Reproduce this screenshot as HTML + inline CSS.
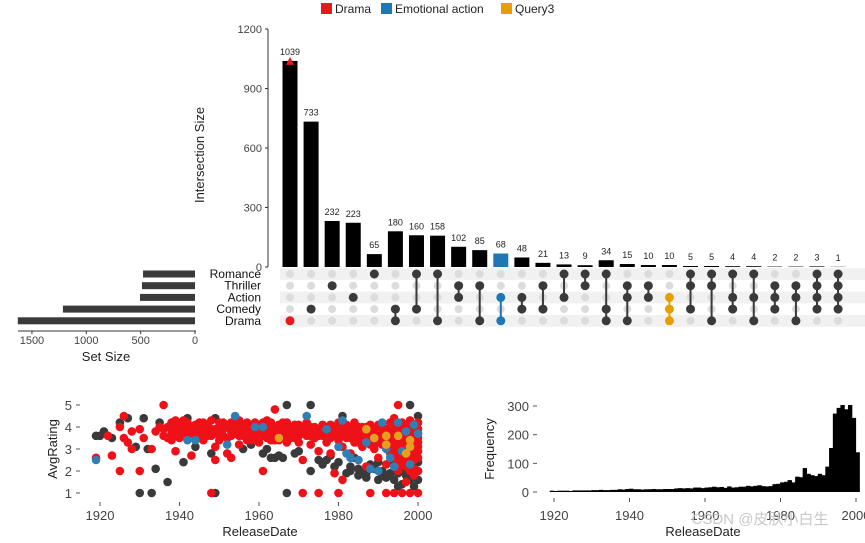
<!DOCTYPE html>
<html><head><meta charset="utf-8"><style>
body{margin:0;background:#fff;width:865px;height:538px;overflow:hidden}
svg text{font-family:"Liberation Sans",sans-serif}
</style></head><body>
<svg id="c" width="865" height="538" xmlns="http://www.w3.org/2000/svg"></svg>
<script>
const setNames=["Romance","Thriller","Action","Comedy","Drama"];
const setSizes=[478,488,506,1215,1630];
const interCounts=[1039,733,232,223,65,180,160,158,102,85,68,48,21,13,9,34,15,10,10,5,5,4,4,2,2,3,1];
const interSets=[[4],[3],[1],[2],[0],[3,4],[0,3],[0,4],[1,2],[1,4],[2,4],[2,3],[1,3],[0,2],[0,1],[0,3,4],[1,2,4],[1,2],[2,3,4],[0,1,3],[0,1,4],[0,2,3],[0,2,4],[1,2,3],[1,2,4],[0,1,2,3],[0,1,2,3]];
const interColor=["#e41a1c",null,null,null,null,null,null,null,null,null,"#1f78b4",null,null,null,null,null,null,null,"#e69f00",null,null,null,null,null,null,null,null];
const yTicks=[0,300,600,900,1200];
const setTicks=[0,500,1000,1500];
const darkPts=[1919,3.6,1920,3.6,1921,3.8,1923,3.5,1925,4.2,1927,4.4,1929,3.1,1930,1,1931,4.4,1932,3.0,1933,1,1934,2.1,1935,4.2,1937,1.5,1941,2.4,1942,4.4,1944,3.1,1948,2.8,1949,1,1949,4.4,1956,3.0,1961,2.8,1963,2.6,1964,2.6,1967,5,1967,1,1969,2.8,1973,5,1973,2,1976,2.3,1978,2.7,1981,4.5,1983,2.2,1985,1.8,1987,1.9,1988,2.3,1990,1.6,1991,2.0,1993,2.4,1995,1.3,1996,2.0,1997,2.8,1998,5,1998,1.6,1999,2.3,2000,4.5,2000,2.0,1984,2.6,1986,1.9,1989,2.1,1992,1.7,1994,1.6,1996,1.4,1999,1.3,1962,3.0,1970,2.9,1975,2.5,1980,2.4,1982,1.9,1958,3.2,1952,3.5,1965,2.7,1979,2.2,1985,2.1,1990,2.4,1995,1.9,1997,1.8,2000,1.6,1966,2.6,1977,2.5,1983,2.0,1987,1.7,1991,1.8,1993,1.9,1998,2.2,2000,2.4];
const redPts=[1919,2.6,1922,3.6,1923,2.7,1925,2,1925,4,1926,4.5,1926,3.5,1927,3.3,1928,3.0,1928,3.8,1930,2,1930,3.9,1931,3.5,1933,3,1934,3.8,1936,5,1936,3.6,1937,4,1938,4.2,1938,3.7,1939,3.9,1939,2.9,1940,4.1,1940,3.5,1941,3.8,1941,4.3,1942,3.9,1943,4.0,1943,2.7,1944,3.6,1945,4.2,1945,3.8,1946,3.9,1946,3.4,1947,4.1,1947,3.6,1948,1,1948,4.3,1949,2.5,1949,3.1,1950,4.0,1950,3.7,1951,3.9,1951,4.2,1952,3.5,1952,2.8,1953,4.0,1953,2.6,1954,3.7,1954,4.3,1955,3.9,1955,3.2,1956,4.1,1956,3.6,1957,4.2,1957,3.8,1958,3.4,1958,4.0,1959,3.9,1959,3.6,1960,4.1,1960,3.3,1961,2,1961,3.8,1962,4.3,1962,3.5,1963,4.0,1963,3.7,1964,4.8,1964,3.4,1965,4.1,1965,3.8,1966,3.6,1966,4.2,1967,3.9,1967,3.3,1968,4.0,1968,3.7,1969,3.5,1969,4.1,1970,3.9,1970,3.3,1971,2.5,1971,4.0,1971,1,1972,3.6,1972,4.2,1973,3.8,1973,3.2,1974,4.0,1974,3.5,1975,1,1975,3.9,1975,2.9,1976,4.1,1976,3.6,1977,3.3,1977,4.0,1978,3.8,1978,2.8,1979,1.9,1979,3.6,1980,1,1980,4.2,1980,3.4,1981,1.6,1981,3.9,1981,3.1,1982,4.1,1982,3.5,1983,2.8,1983,3.9,1984,4.2,1984,3.3,1985,3.7,1985,2.5,1986,4.0,1986,3.1,1987,3.8,1987,2.2,1988,1,1988,3.5,1988,4.1,1989,3.0,1989,3.9,1990,3.6,1990,2.6,1991,4.0,1991,3.2,1992,1,1992,3.7,1992,2.3,1993,4.2,1993,3.4,1993,2.8,1994,1,1994,3.9,1994,3.0,1994,4.4,1995,5,1995,2.0,1995,3.5,1995,4.1,1996,1,1996,3.8,1996,2.6,1996,3.2,1997,1.5,1997,4.0,1997,3.4,1997,2.2,1998,1,1998,3.7,1998,2.9,1998,4.3,1999,1.8,1999,3.6,1999,2.5,2000,1,2000,3.9,2000,3.1,2000,2.0,
1935,4.0,1937,3.5,1939,4.3,1942,3.6,1944,4.1,1946,4.2,1948,3.9,1950,3.4,1953,3.6,1955,4.3,1957,3.4,1960,3.7,1963,3.4,1966,3.9,1969,3.8,1972,3.9,1974,3.7,1977,3.7,1979,4.0,1982,3.8,1984,3.6,1986,3.5,1988,3.8,1990,4.1,1991,3.5,1993,3.8,1994,3.4,1995,3.0,1996,4.2,1996,3.5,1997,3.7,1997,3.1,1998,3.4,1998,2.5,1999,4.0,1999,3.2,1999,2.8,2000,3.5,2000,2.6,2000,4.2,1996,2.3,1997,2.6,1995,2.5,1994,2.6,1998,2.0,1999,2.1,
1936,3.9,1938,3.9,1939,3.6,1940,3.8,1941,4.0,1942,4.2,1943,3.7,1944,3.9,1945,3.5,1946,3.7,1947,3.9,1948,3.6,1949,3.9,1950,4.2,1951,3.6,1952,4.0,1953,3.8,1954,4.0,1955,3.6,1956,3.9,1957,4.0,1958,3.7,1959,4.2,1960,3.9,1961,3.6,1961,4.2,1962,3.8,1963,4.2,1964,3.9,1965,3.6,1966,4.0,1967,3.6,1967,4.2,1968,3.9,1969,3.6,1970,4.1,1971,3.7,1972,3.8,1973,4.0,1974,3.8,1975,3.6,1976,3.9,1977,3.9,1978,4.1,1978,3.5,1979,3.8,1980,3.7,1981,3.6,1982,3.9,1983,3.5,1984,3.9,1985,4.0,1985,3.3,1986,3.8,1987,3.5,1988,3.2,1989,3.6,1990,3.3,1991,3.7,1992,3.9,1992,3.4,1993,3.1,1994,3.7,1995,3.8,1995,3.2,1996,3.9,1996,3.0,1997,3.5,1997,2.9,1998,3.9,1998,3.2,1999,3.8,1999,3.4,2000,3.7,2000,2.9,2000,3.3,1999,3.0,1998,2.7,1997,2.4,1996,2.8,1995,2.8,1993,3.6,1991,3.9,1989,3.3,1987,4.0,1983,3.7,1980,3.9,1976,3.8,1973,3.6,1970,3.6,1968,3.5,1965,3.4,1962,4.0,1959,3.4,1956,3.8,1953,4.2,1949,3.7,1945,4.0,1942,4.0,1940,3.9,1938,3.4];
const bluePts=[1919,2.5,1942,3.4,1944,3.4,1952,3.2,1954,4.5,1959,4.0,1961,4.0,1972,4.5,1977,3.9,1980,3.1,1981,4.3,1982,2.8,1985,2.5,1987,3.3,1988,2.1,1990,2.0,1991,4.2,1993,2.6,1994,2.2,1995,4.2,1996,2.9,1997,3.8,1998,2.3,1999,4.1,2000,3.7,1983,2.6,1989,3.5,1992,3.0];
const orangePts=[1965,3.5,1987,3.9,1989,3.5,1992,3.6,1992,3.2,1995,3.6,1997,2.8,1998,3.1,1998,3.4];
const histYears=[1919,1920,1921,1922,1923,1924,1925,1926,1927,1928,1929,1930,1931,1932,1933,1934,1935,1936,1937,1938,1939,1940,1941,1942,1943,1944,1945,1946,1947,1948,1949,1950,1951,1952,1953,1954,1955,1956,1957,1958,1959,1960,1961,1962,1963,1964,1965,1966,1967,1968,1969,1970,1971,1972,1973,1974,1975,1976,1977,1978,1979,1980,1981,1982,1983,1984,1985,1986,1987,1988,1989,1990,1991,1992,1993,1994,1995,1996,1997,1998,1999,2000];
const histCounts=[1,0,1,1,1,0,2,2,2,2,2,3,3,4,3,3,4,4,6,5,7,8,6,6,5,6,6,7,6,6,7,7,7,9,10,9,10,9,12,12,10,12,13,15,13,14,11,16,12,13,15,15,18,16,18,20,17,16,17,24,25,30,32,38,30,50,48,80,60,55,52,60,55,85,150,270,290,300,285,300,255,135];
const yrTicks=[1920,1940,1960,1980,2000];
const ratTicks=[1,2,3,4,5];
const freqTicks=[0,100,200,300];

const svg=document.getElementById('c');
const NS="http://www.w3.org/2000/svg";
function mk(tag,attrs,parent){const e=document.createElementNS(NS,tag);for(const k in attrs)e.setAttribute(k,attrs[k]);(parent||svg).appendChild(e);return e;}
function txt(x,y,s,attrs,parent){const e=mk('text',Object.assign({x:x,y:y},attrs),parent);e.textContent=s;return e;}

const leg=[["Drama","#e41a1c",321],["Emotional action","#1f78b4",381],["Query3","#e69f00",501]];
leg.forEach(l=>{
  const r=mk('rect',{x:l[2],y:3,width:11,height:11,fill:l[1]});
  
  
  const t=txt(l[2]+14,13,l[0],{'font-size':12,fill:'#222'});
  
  
});

const col0=290, colStep=21.08, y0=267, yPer=238/1200;
const bx=i=>col0+i*colStep;
const by=v=>y0-v*yPer;
const ax=mk('line',{x1:268,y1:29,x2:268,y2:267,stroke:'#333','stroke-width':1});


yTicks.forEach(t=>{
  mk('line',{x1:265,x2:268,y1:by(t),y2:by(t),stroke:'#333'});
  const e=txt(262,by(t)+4,String(t),{'font-size':11,fill:'#444','text-anchor':'end'});
  
  
});
const yt=txt(0,0,"Intersection Size",{'font-size':13,fill:'#222','text-anchor':'middle',transform:'translate(204,155) rotate(-90)'});


interCounts.forEach((v,i)=>{
  const col=interColor[i]==="#1f78b4"?"#1f78b4":"#000";
  const r=mk('rect',{x:bx(i)-7.5,y:by(v),width:15,height:y0-by(v),fill:col});
  
  
  const t=txt(bx(i),by(v)-6,String(v),{'font-size':9,fill:'#222','text-anchor':'middle'});
  
  
  if(interColor[i]==="#e41a1c"){
    const tri=mk('polygon',{points:`${bx(i)-4},${by(v)+4} ${bx(i)+4},${by(v)+4} ${bx(i)},${by(v)-4}`,fill:'#e41a1c'});
    
    
  }
});

const rowY=i=>274+i*11.7;
setNames.forEach((n,i)=>{
  if(i%2===0){const s=mk('rect',{x:280,y:rowY(i)-5.8,width:585,height:11.7,fill:'#f1f1f1'});
    }
  const t=txt(261,rowY(i)+4,n,{'font-size':12,fill:'#111','text-anchor':'end'});
  
  
});
interSets.forEach((sets,i)=>{
  const c=interColor[i]||"#3a3a3a";
  const mn=Math.min(...sets),mx=Math.max(...sets);
  for(let r=0;r<5;r++){
    if(!sets.includes(r)){const d=mk('circle',{cx:bx(i),cy:rowY(r),r:4,fill:'#dcdcdc'});
      }
  }
  if(mx>mn){const l=mk('line',{x1:bx(i),x2:bx(i),y1:rowY(mn),y2:rowY(mx),stroke:c,'stroke-width':2});
    }
  sets.forEach(r=>{const d=mk('circle',{cx:bx(i),cy:rowY(r),r:4.5,fill:c});
    });
});

const sx=v=>195-v*0.1087;
setSizes.forEach((v,i)=>{
  const r=mk('rect',{x:sx(v),y:rowY(i)-3.5,width:195-sx(v),height:7,fill:'#3a3a3a'});
  
  
});
mk('line',{x1:18,x2:196,y1:331,y2:331,stroke:'#333'});
setTicks.forEach(t=>{
  mk('line',{x1:sx(t),x2:sx(t),y1:331,y2:334,stroke:'#333'});
  const e=txt(sx(t),344,String(t),{'font-size':11,fill:'#444','text-anchor':'middle'});
  
});
const st=txt(106,361,"Set Size",{'font-size':13,fill:'#222','text-anchor':'middle'});


const scX=y=>100+(y-1920)*(318/80);
const scY=r=>493-(r-1)*22;
ratTicks.forEach(t=>{
  mk('line',{x1:76,x2:80,y1:scY(t),y2:scY(t),stroke:'#555'});
  const e=txt(72,scY(t)+5,String(t),{'font-size':13,fill:'#444','text-anchor':'end'});
  
});
yrTicks.forEach(t=>{
  mk('line',{x1:scX(t),x2:scX(t),y1:502,y2:506,stroke:'#555'});
  const e=txt(scX(t),520,String(t),{'font-size':13,fill:'#444','text-anchor':'middle'});
  
});
const sxt=txt(260,536,"ReleaseDate",{'font-size':13,fill:'#222','text-anchor':'middle'});

const syt=txt(0,0,"AvgRating",{'font-size':13,fill:'#222','text-anchor':'middle',transform:'translate(57,449) rotate(-90)'});

function pts(arr,col,name){
  for(let k=0;k<arr.length;k+=2){
    const c=mk('circle',{cx:scX(arr[k]),cy:scY(arr[k+1]),r:4.3,fill:col});
    
    
  }
}
pts(darkPts,'#3a3a3a','scatter-point-all');
pts(redPts,'#ee1118','scatter-point-drama');
pts(bluePts,'#2f7fb5','scatter-point-emotional-action');
pts(orangePts,'#e6a020','scatter-point-query3');

const hX=y=>554+(y-1920)*(302/80);
const hY=v=>492-v*(86/300);
freqTicks.forEach(t=>{
  mk('line',{x1:533,x2:537,y1:hY(t),y2:hY(t),stroke:'#555'});
  const e=txt(529,hY(t)+5,String(t),{'font-size':13,fill:'#444','text-anchor':'end'});
  
});
yrTicks.forEach(t=>{
  mk('line',{x1:hX(t),x2:hX(t),y1:498,y2:502,stroke:'#555'});
  const e=txt(hX(t),520,String(t),{'font-size':13,fill:'#444','text-anchor':'middle'});
  
});
const hxt=txt(703,536,"ReleaseDate",{'font-size':13,fill:'#222','text-anchor':'middle'});

const hyt=txt(0,0,"Frequency",{'font-size':13,fill:'#222','text-anchor':'middle',transform:'translate(494,449) rotate(-90)'});

histYears.forEach((yr,i)=>{
  const v=histCounts[i];
  const r=mk('rect',{x:hX(yr)-0.5,y:hY(v)-1,width:302/80+0.6,height:492-hY(v)+1,fill:'#000'});
  
  
});
const wm=txt(760,524,"CSDN @皮肤小白生",{'font-size':15,fill:'#c8c8c8','text-anchor':'middle','font-family':'"Liberation Sans","Noto Sans CJK SC",sans-serif'});

</script>
</body></html>
